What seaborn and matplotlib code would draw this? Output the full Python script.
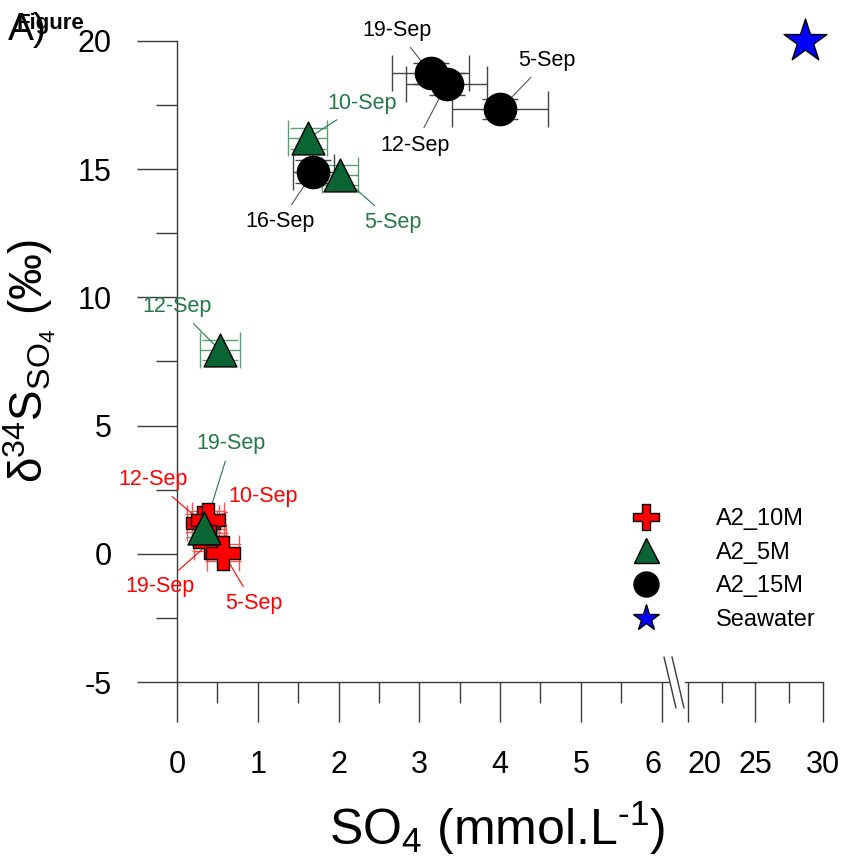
import numpy as np
import pandas as pd
import seaborn as sns
import matplotlib.pyplot as plt
from matplotlib.lines import Line2D
from matplotlib.ticker import MultipleLocator

# A2_10M (red crosses)
m10_dates = ['12-Sep', '10-Sep', '19-Sep', '5-Sep']
m10_so4 = [0.32, 0.38, 0.41, 0.57]
m10_d34s = [1.2, 1.3, 0.45, 0.05]
m10_xerr = [0.2, 0.2, 0.2, 0.2]
m10_yerr = [0.35, 0.35, 0.35, 0.35]

# A2_5M (green triangles)
m5_dates = ['10-Sep', '5-Sep', '12-Sep', '19-Sep']
m5_so4 = [1.62, 2.02, 0.53, 0.34]
m5_d34s = [16.2, 14.78, 7.95, 1.0]
m5_xerr = [0.24, 0.22, 0.25, 0.15]
m5_yerr = [0.4, 0.4, 0.4, 0.35]

# A2_15M (black circles)
m15_dates = ['19-Sep', '5-Sep', '12-Sep', '16-Sep']
m15_so4 = [3.14, 4.0, 3.34, 1.69]
m15_d34s = [18.74, 17.34, 18.32, 14.9]
m15_xerr = [0.48, 0.6, 0.5, 0.25]
m15_yerr = [0.4, 0.4, 0.42, 0.45]

# seawater
sw_so4 = [28.7]
sw_d34s = [20.0]

# label offsets (points) for the date labels
m10_off = [(-36, 31), (40, 17), (-36, -32), (22, -37)]
m5_off = [(39, 25), (38, -34), (-31, 31), (19, 61)]
m15_off = [(-24, 31), (34, 35), (-23, -44), (-24, -36)]

RED = '#ff0000'
GREEN = '#0b6434'
GREEN_TXT = '#23784a'
BLUE = '#0000ff'
AXC = '#3a3a3a'

sns.set_style('ticks')
plt.rcParams['font.family'] = ['Liberation Sans', 'DejaVu Sans']
plt.rcParams['mathtext.fontset'] = 'custom'
plt.rcParams['mathtext.rm'] = 'Liberation Sans'
plt.rcParams['mathtext.it'] = 'Liberation Sans:italic'
plt.rcParams['mathtext.bf'] = 'Liberation Sans:bold'
plt.rcParams['axes.unicode_minus'] = False
plt.rcParams['text.color'] = 'black'
plt.rcParams['axes.labelcolor'] = 'black'
plt.rcParams['xtick.color'] = 'black'
plt.rcParams['ytick.color'] = 'black'

fig = plt.figure(figsize=(8.41, 8.60), dpi=100)
ax = fig.add_axes([177/841, 178/860, 491/841, 641/860])
ax2 = fig.add_axes([685/841, 178/860, 138/841, 641/860], sharey=ax)

series = [
    (m10_so4, m10_d34s, m10_xerr, m10_yerr, m10_dates, m10_off, 'P', RED, '#ff5050', RED, 600),
    (m5_so4, m5_d34s, m5_xerr, m5_yerr, m5_dates, m5_off, '^', GREEN, '#5a9f74', GREEN_TXT, 560),
    (m15_so4, m15_d34s, m15_xerr, m15_yerr, m15_dates, m15_off, 'o', 'black', '#444444', 'black', 540),
]

for x, y, xe, ye, dates, offs, mk, fc, ec, tc, s in series:
    df = pd.DataFrame({'so4': x, 'd34s': y})
    ax.errorbar(x, y, xerr=xe, yerr=ye, fmt='none', ecolor=ec, elinewidth=1,
                capsize=13, capthick=1, zorder=2, clip_on=False)
    sns.scatterplot(data=df, x='so4', y='d34s', marker=mk, s=s, color=fc,
                    edgecolor='black', linewidth=1, ax=ax, zorder=4,
                    legend=False, clip_on=False)
    lc = '#555555' if tc == 'black' else tc
    for xi, yi, d, off in zip(x, y, dates, offs):
        ax.annotate(d, (xi, yi), xytext=off, textcoords='offset points',
                    ha='center', va='center', fontsize=15.5, color=tc,
                    arrowprops=dict(arrowstyle='-', color=lc, lw=0.8,
                                    shrinkA=3, shrinkB=0), zorder=3)

sw = pd.DataFrame({'so4': sw_so4, 'd34s': sw_d34s})
sns.scatterplot(data=sw, x='so4', y='d34s', marker='*', s=1050, color=BLUE,
                edgecolor='black', linewidth=1, ax=ax2, zorder=4,
                legend=False, clip_on=False)

ax.set_xlim(0, 6.08)
ax2.set_xlim(19.78, 30)
ax.set_ylim(-5, 20)

ax.xaxis.set_major_locator(MultipleLocator(1))
ax.xaxis.set_minor_locator(MultipleLocator(0.5))
ax.yaxis.set_major_locator(MultipleLocator(5))
ax.yaxis.set_minor_locator(MultipleLocator(2.5))
ax2.xaxis.set_major_locator(MultipleLocator(5))
ax2.xaxis.set_minor_locator(MultipleLocator(2.5))

for a in (ax, ax2):
    a.set_xlabel('')
    a.set_ylabel('')
    a.patch.set_alpha(0)
    for sp in ['top', 'right']:
        a.spines[sp].set_visible(False)
    for sp in ['left', 'bottom']:
        a.spines[sp].set_color(AXC)
        a.spines[sp].set_linewidth(1)
    a.tick_params(which='both', bottom=True, left=True, top=False, right=False)
    a.tick_params(which='major', direction='out', length=29, width=1,
                  color=AXC, labelcolor='black', labelsize=22, pad=18)
    a.tick_params(which='minor', direction='out', length=15, width=1, color=AXC)
    a.tick_params(axis='x', which='major', pad=20)
ax2.spines['left'].set_visible(False)
ax2.tick_params(axis='y', which='both', left=False, labelleft=False)

ax.set_xticks(np.arange(0, 7))
ax.set_xticklabels([str(v) for v in range(7)])
ax.get_xticklabels()[-1].set_ha('right')
ax2.set_xticks([20, 25, 30])
ax2.set_xticklabels(['20', '25', '30'])
ax2.get_xticklabels()[0].set_ha('left')

# axis break marks
for x0 in (664, 672):
    fig.add_artist(Line2D([x0/841, (x0+12)/841], [1-657/860, 1-708/860],
                          color=AXC, lw=1, transform=fig.transFigure))

ax.set_ylabel('δ$^{34}$S$_{\\mathrm{SO_4}}$ (‰)', fontsize=33, labelpad=14)
fig.text(497/841, 1-828/860, 'SO$_{4}$ (mmol.L$^{\u2010\\mathrm{1}}$)',
         fontsize=36, ha='center', va='center')

handles = [
    Line2D([], [], marker='P', ls='none', markerfacecolor=RED, markeredgecolor='black', markersize=19),
    Line2D([], [], marker='^', ls='none', markerfacecolor=GREEN, markeredgecolor='black', markersize=18),
    Line2D([], [], marker='o', ls='none', markerfacecolor='black', markeredgecolor='black', markersize=18),
    Line2D([], [], marker='*', ls='none', markerfacecolor=BLUE, markeredgecolor='black', markersize=20),
]
fig.legend(handles, ['A2_10M', 'A2_5M', 'A2_15M', 'Seawater'],
           loc='upper left', bbox_to_anchor=(611/841, 1-496/860),
           frameon=False, fontsize=17, borderpad=0, handlelength=2,
           handletextpad=1.95, labelspacing=0.5)

fig.text(8/841, 1-40/860, 'A)', fontsize=28)
fig.text(17/841, 1-29/860, 'Figure', fontsize=16, fontweight='bold')

fig.savefig('out.png', dpi=100)
